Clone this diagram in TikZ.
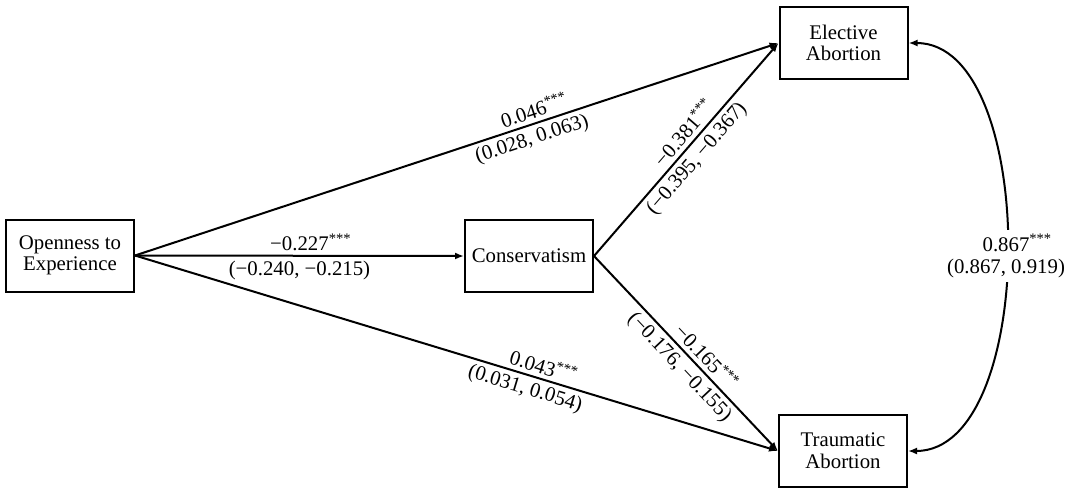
\documentclass[tikz,border=0pt]{standalone}
\usepackage{fontspec}
\setmainfont{Liberation Serif}
\usetikzlibrary{arrows.meta}
\newcommand\mystars{\rlap{\textsuperscript{***}}}
\begin{document}
\begin{tikzpicture}[x=0.5pt,y=-0.5pt,
  box/.style={draw,line width=1pt,minimum width=64pt,minimum height=36pt,align=center,inner sep=1pt,font=\fontsize{10.4}{10.8}\selectfont},
  conn/.style={line width=1pt,-{Latex[length=4.5pt,width=3.5pt]}},
  dconn/.style={line width=1pt,{Latex[length=4.5pt,width=3.5pt]}-{Latex[length=4.5pt,width=3.5pt]}},
  lab/.style={font=\fontsize{10.4}{11}\selectfont,inner sep=2pt,sloped}]
\useasboundingbox (0,0) rectangle (1075,489);
\node[box] (ope) at (70,255.5) {Openness to\\Experience};
\node[box] (con) at (529,256) {Conservatism};
\node[box] (ele) at (843.5,43) {Elective\\Abortion};
\node[box] (tra) at (843,451) {Traumatic\\Abortion};
\draw[conn] (ope.east) -- node[lab,above,pos=0.5] {−0.227\mystars} node[lab,below,pos=0.5] {(−0.240, −0.215)} (con.west);
\draw[conn] (ope.east) -- node[lab,above,pos=0.61] {0.046\mystars} node[lab,below,pos=0.61] {(0.028, 0.063)} (ele.west);
\draw[conn] (ope.east) -- node[lab,above,pos=0.613] {0.043\mystars} node[lab,below,pos=0.613] {(0.031, 0.054)} (tra.west);
\draw[conn] (con.east) -- node[lab,above,pos=0.5] {−0.381\mystars} node[lab,below,pos=0.5] {(−0.395, −0.367)} (ele.west);
\draw[conn] (con.east) -- node[lab,above,pos=0.52] {−0.165\mystars} node[lab,below,pos=0.52] {(−0.176, −0.155)} (tra.west);
\draw[dconn] (ele.east) .. controls (1039,43) and (1039,451) .. (tra.east);
\node[fill=white,align=center,inner sep=2pt,font=\fontsize{10.4}{11}\selectfont] (cor) at (1006,256) {0.867\mystars\\(0.867, 0.919)};
\end{tikzpicture}
\end{document}
